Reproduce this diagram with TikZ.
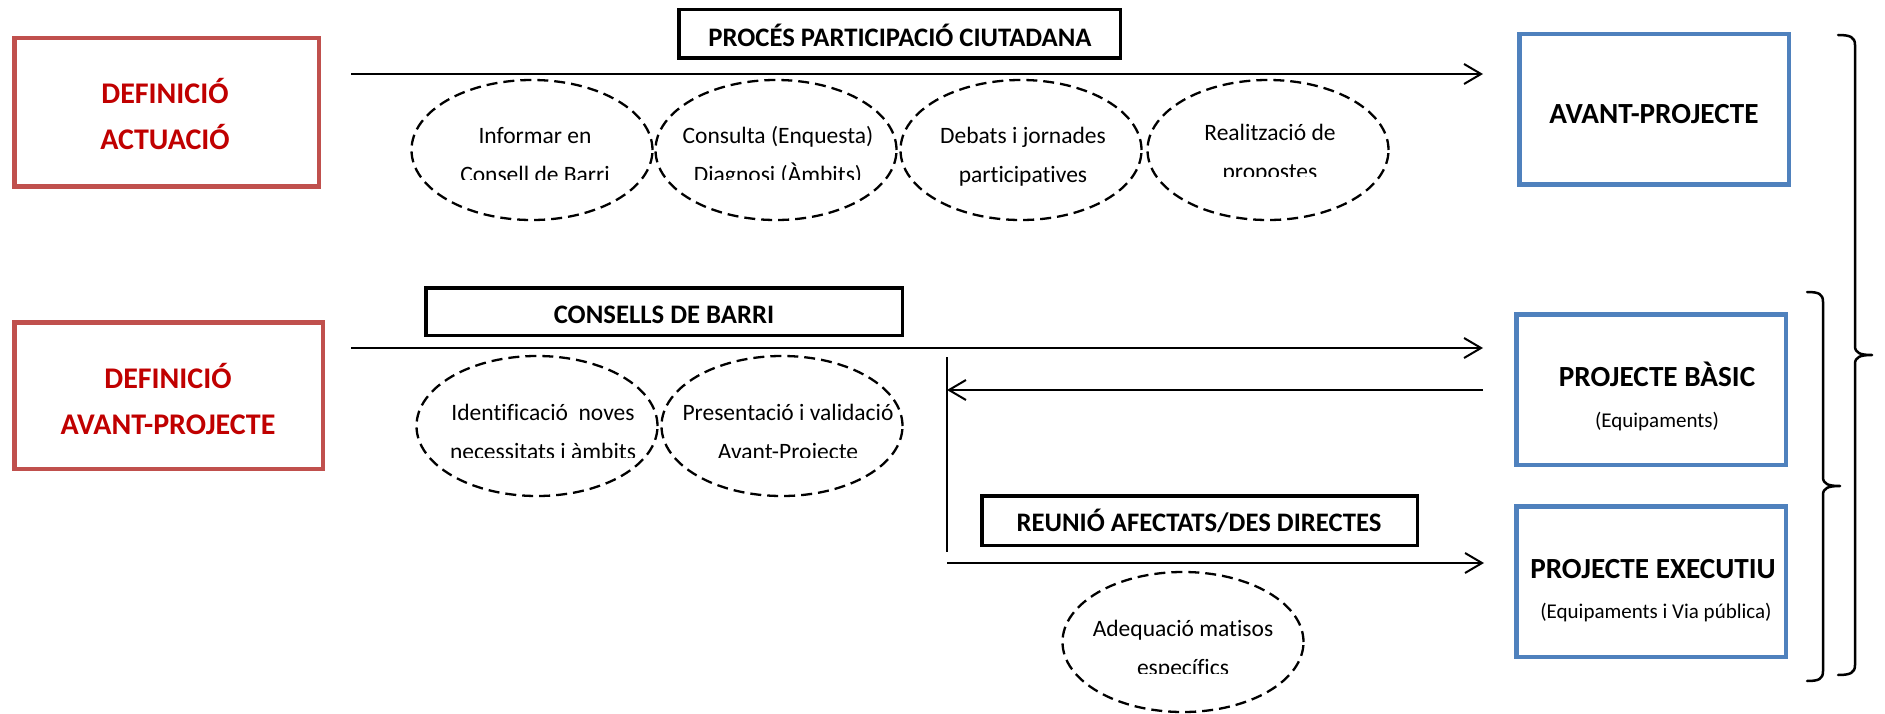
\documentclass[tikz,border=0pt]{standalone}
\usepackage{fontspec}
\setmainfont[Ligatures=NoCommon]{Carlito}
\usetikzlibrary{shapes.geometric,arrows.meta}
\definecolor{redb}{HTML}{C0504D}
\definecolor{redt}{HTML}{C00000}
\definecolor{blueb}{HTML}{4F81BD}
\begin{document}
\begin{tikzpicture}[x=1pt,y=-1pt,
  redbox/.style={draw=redb, line width=4.5pt, inner sep=0pt},
  bluebox/.style={draw=blueb, line width=4.5pt, inner sep=0pt, minimum width=269.5pt, minimum height=150.5pt},
  blackbox/.style={draw=black, line width=3.5pt, inner sep=0pt},
  ell/.style={ellipse, draw, line width=2.3pt, dash pattern=on 11pt off 6pt, minimum width=241pt, minimum height=140pt, inner sep=0pt},
  etxt/.style={anchor=base, inner sep=0pt, font=\fontsize{23.5}{28}\selectfont},
  ttl/.style={anchor=base, inner sep=0pt, font=\bfseries\fontsize{26.7}{31}\selectfont},
  redtxt/.style={anchor=base, inner sep=0pt, text=redt, font=\bfseries\fontsize{30}{36}\selectfont},
  bigtxt/.style={anchor=base, inner sep=0pt, font=\bfseries\fontsize{29.2}{34}\selectfont},
  subtxt/.style={anchor=base, inner sep=0pt, font=\fontsize{21}{26}\selectfont},
  conn/.style={line width=2pt},
  arr/.style={conn, -{Straight Barb[length=17pt,width=20pt]}},
  brk/.style={line width=2.5pt, line join=round, line cap=round}
]
\useasboundingbox (0,0) rectangle (1885,714);

% red boxes
\node[redbox, minimum width=304.5pt, minimum height=148.5pt] (def1) at (166.5,112.5) {};
\node[redtxt] (def1a) at (165,103.3) {DEFINICIÓ};
\node[redtxt] (def1b) at (165,150) {ACTUACIÓ};
\node[redbox, minimum width=308.5pt, minimum height=146.5pt] (def2) at (168.5,395.5) {};
\node[redtxt] (def2a) at (168,388) {DEFINICIÓ};
\node[redtxt] (def2b) at (168,434) {AVANT-PROJECTE};

% black title boxes
\node[blackbox, minimum width=441.5pt, minimum height=48.5pt] (proc) at (899.5,34) {};
\node[ttl] (proct) at (900,46.7) {PROCÉS PARTICIPACIÓ CIUTADANA};
\node[blackbox, minimum width=476.5pt, minimum height=47.5pt] (cons) at (664,311.5) {};
\node[ttl] (const) at (664,323) {CONSELLS DE BARRI};
\node[blackbox, minimum width=435.5pt, minimum height=49.5pt] (reun) at (1199.5,520.5) {};
\node[ttl] (reunt) at (1199,531.7) {REUNIÓ AFECTATS/DES DIRECTES};

% blue boxes
\node[bluebox] (avp) at (1654,109.5) {};
\node[bigtxt] (avpt) at (1654,123.3) {AVANT-PROJECTE};
\node[bluebox] (pb) at (1651,389.5) {};
\node[bigtxt] (pbt) at (1657,386.7) {PROJECTE BÀSIC};
\node[subtxt] (pbs) at (1657,427.3) {(Equipaments)};
\node[bluebox] (pe) at (1651,581.5) {};
\node[bigtxt] (pet) at (1653,578.3) {PROJECTE EXECUTIU};
\node[subtxt] (pes) at (1656,618.3) {(Equipaments i Via pública)};

% connectors
\coordinate (a1s) at (351,74);   \coordinate (a1e) at (1483,74);
\coordinate (a2s) at (351,348);  \coordinate (a2e) at (1483,348);
\coordinate (bks) at (1483,390); \coordinate (bke) at (947,390);
\coordinate (vt) at (947,357);   \coordinate (vb) at (947,552);
\coordinate (a3s) at (947,563);  \coordinate (a3e) at (1484,563);
\draw[arr] (a1s) -- (a1e);
\draw[arr] (a2s) -- (a2e);
\draw[arr] (bks) -- (bke);
\draw[conn] (vt) -- (vb);
\draw[arr] (a3s) -- (a3e);

% row 1 ellipses
\node[ell] (e1) at (532,150) {};
\node[etxt] (e1a) at (535,143.3) {Informar en};
\begin{scope}\clip (410,150) rectangle (655,180);
\node[etxt] (e1b) at (535,182.3) {Consell de Barri};
\end{scope}
\node[ell] (e2) at (776,150) {};
\node[etxt] (e2a) at (778,143.3) {Consulta (Enquesta)};
\begin{scope}\clip (655,150) rectangle (900,180);
\node[etxt] (e2b) at (778,182.3) {Diagnosi (Àmbits)};
\end{scope}
\node[ell] (e3) at (1021,150) {};
\node[etxt] (e3a) at (1023,143.3) {Debats i jornades};
\begin{scope}\clip (900,150) rectangle (1145,186);
\node[etxt] (e3b) at (1023,182.3) {participatives};
\end{scope}
\node[ell] (e4) at (1268,150) {};
\node[etxt] (e4a) at (1270,140.3) {Realització de};
\begin{scope}\clip (1145,150) rectangle (1390,177);
\node[etxt] (e4b) at (1270,179.3) {propostes};
\end{scope}

% row 2 ellipses
\node[ell] (e5) at (537,426) {};
\node[etxt] (e5a) at (543,420.3) {Identificació\ \ noves};
\begin{scope}\clip (415,430) rectangle (659,457);
\node[etxt] (e5b) at (543,459.3) {necessitats i àmbits};
\end{scope}
\node[ell] (e6) at (782,426) {};
\node[etxt] (e6a) at (788,420.3) {Presentació i validació};
\begin{scope}\clip (659,430) rectangle (905,457);
\node[etxt] (e6b) at (788,459.3) {Avant-Projecte};
\end{scope}

% bottom ellipse
\node[ell] (e7) at (1183,642) {};
\node[etxt] (e7a) at (1183,636.3) {Adequació matisos};
\begin{scope}\clip (1060,645) rectangle (1305,673);
\node[etxt] (e7b) at (1183,675.3) {específics};
\end{scope}

% brackets
\draw[brk] (1807,292) .. controls (1819,292) and (1823,294) .. (1823,302) -- (1823,477)
  .. controls (1823,484) and (1828,486) .. (1840,486)
  .. controls (1828,486) and (1823,488) .. (1823,495) -- (1823,671)
  .. controls (1823,679) and (1819,681) .. (1807,681);
\draw[brk] (1838,35) .. controls (1850,35) and (1855,37) .. (1855,45) -- (1855,346)
  .. controls (1855,353) and (1860,355) .. (1872,355)
  .. controls (1860,355) and (1855,357) .. (1855,364) -- (1855,665)
  .. controls (1855,673) and (1850,675) .. (1838,675);
\end{tikzpicture}
\end{document}
